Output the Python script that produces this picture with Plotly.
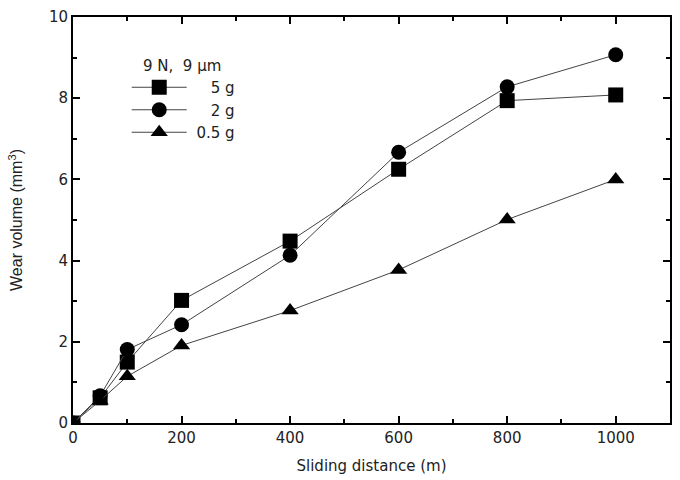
import plotly.graph_objects as go

distance = [0, 50, 100, 200, 400, 600, 800, 1000]
wear_5g = [0, 0.62, 1.50, 3.02, 4.48, 6.25, 7.94, 8.08]
wear_2g = [0, 0.67, 1.81, 2.42, 4.13, 6.67, 8.28, 9.07]
wear_05g = [0, 0.55, 1.15, 1.91, 2.77, 3.77, 5.01, 6.00]
series_names = ["\u00a0\u00a0\u00a0\u00a05 g", "\u00a0\u00a0\u00a0\u00a02 g", "\u00a00.5 g"]
symbols = ["square", "circle", "triangle-up"]

fig = go.Figure()
for name, ys, sym in zip(series_names, [wear_5g, wear_2g, wear_05g], symbols):
    fig.add_trace(go.Scatter(
        x=distance, y=ys, mode="lines+markers", name=name,
        line=dict(color="#444444", width=1),
        marker=dict(symbol=sym, size=15, color="black"),
    ))

font = "DejaVu Sans, Verdana, sans-serif"
tcol = "#222"
axis_common = dict(
    showline=True, linecolor="black", linewidth=2, mirror="ticks",
    ticks="inside", ticklen=7, tickwidth=2, tickcolor="black",
    showgrid=False, zeroline=False,
    tickfont=dict(family=font, size=15, color=tcol),
)
fig.update_layout(
    width=680, height=480,
    margin=dict(l=73, r=8, t=15, b=57),
    plot_bgcolor="white", paper_bgcolor="white",
    xaxis=dict(range=[0, 1100], dtick=200,
               minor=dict(ticks="inside", dtick=100, ticklen=4, tickwidth=2, tickcolor="black"),
               title=dict(text="Sliding distance (m)", font=dict(family=font, size=15, color=tcol), standoff=14),
               **axis_common),
    yaxis=dict(range=[0, 10], dtick=2,
               minor=dict(ticks="inside", dtick=1, ticklen=4, tickwidth=2, tickcolor="black"),
               title=dict(text="Wear volume (mm<sup>3</sup>)", font=dict(family="Liberation Sans, Arial, sans-serif", size=16, color=tcol), standoff=22),
               **axis_common),
    legend=dict(x=0.09, y=0.915, xanchor="left", yanchor="top",
                bgcolor="rgba(0,0,0,0)",
                title=dict(text="\u00a0\u00a0\u00a09 N,  9 µm", font=dict(family=font, size=15, color=tcol)),
                font=dict(family=font, size=15, color=tcol),
                itemwidth=55, tracegroupgap=0),
    showlegend=True,
)
fig.write_html("out.html")
